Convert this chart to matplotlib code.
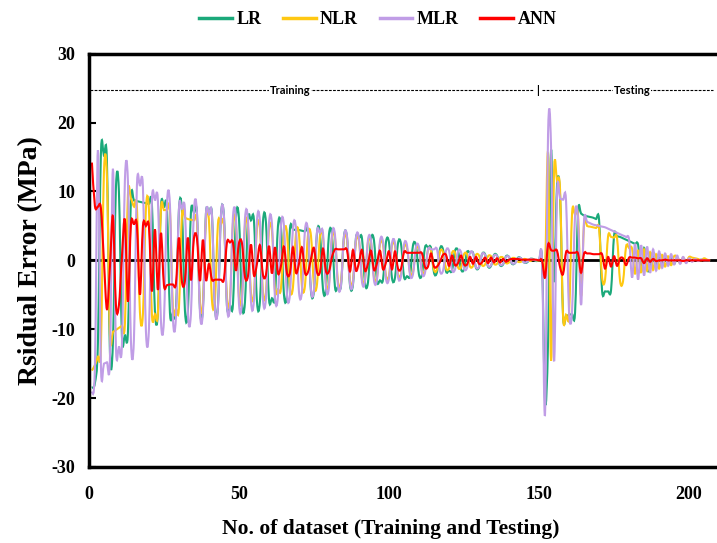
import numpy as np
import matplotlib
matplotlib.use("Agg")
from matplotlib import pyplot as plt
from matplotlib.path import Path
from matplotlib.patches import PathPatch
from matplotlib.lines import Line2D

# residual errors (MPa), data points 1..207 (training 1-151, testing 152-207)
lr = [
    -18.5, -17.8, -12.0, 15.5, 15.2, 14.5, -13.3, -12.0, 10.5, 10.0,
    -11.0, -10.8, -10.5, 8.8, 8.7, 8.6, 8.5, 8.4, 8.3, 8.2,
    8.1, -7.4, -7.6, 7.8, 7.7, 7.6, -7.6, -7.5, -7.4, 7.3,
    7.2, -7.3, -7.2, 7.0, 6.9, 6.9, -7.0, -6.9, 6.8, 6.7,
    6.7, -6.8, -6.7, 6.5, 6.4, -6.6, -6.5, -6.4, 6.2, 6.1,
    -6.2, -6.1, 5.9, 5.8, 5.8, -6.0, -5.9, 5.6, 5.5, -5.6,
    -5.5, -5.3, 5.0, 4.9, -5.0, -4.9, 4.6, 4.5, 4.4, 4.4,
    4.3, 4.2, 4.1, -4.5, -4.4, 4.0, 3.9, -4.2, -4.1, 3.8,
    3.7, -3.9, -3.8, -3.7, 3.5, 3.4, -3.6, -3.5, 3.3, 3.2,
    3.2, -3.3, -3.2, 3.0, 2.9, -3.0, -2.9, -2.8, 2.7, 2.6,
    -2.6, -2.5, 2.5, 2.4, -2.4, -2.3, -2.2, 2.2, 2.1, -2.1,
    -2.0, 1.9, 1.9, 1.8, -1.8, -1.7, 1.7, 1.6, -1.6, -1.5,
    -1.5, 1.4, 1.4, -1.3, -1.3, 1.2, 1.1, 1.1, -1.1, -1.0,
    0.9, 0.9, -0.9, -0.8, 0.8, 0.7, -0.7, -0.6, 0.6, 0.5,
    -0.5, -0.4, 0.4, 0.3, -0.3, -0.3, 0.2, 0.2, -0.1, 0.0,
    0.0,
    -20.5, -12.0, 16.0, -3.0, 11.0, 9.5, -8.0, -8.1, -7.9, -7.8,
    -7.6, 7.0, 6.8, 6.5, 6.4, 6.3, 6.2, 6.0, 5.9, -4.4,
    -4.5, -4.5, -4.3, 3.6, 3.5, 3.4, 3.2, 3.0, 2.8, 2.6,
    2.4, 2.3, -1.6, 1.8, -1.3, -1.2, 1.2, -1.0, 1.0, -0.8,
    0.7, -0.6, 0.5, -0.5, 0.4, -0.3, 0.3, -0.2, 0.2, -0.1,
    0.1, 0.0, 0.1, 0.0, 0.0, 0.0,
]
nlr = [
    -16.0, -15.2, -14.0, -12.5, 12.7, 12.2, -10.7, -10.4, -10.1, -9.8,
    -9.5, -9.2, 9.5, 9.0, 7.8, 7.7, -7.5, -7.8, 7.5, 7.4,
    -7.9, -7.8, -7.6, 7.4, 7.3, 7.3, 7.2, -7.0, -7.0, -6.9,
    6.6, 6.2, 6.0, 5.9, 5.8, 5.7, -6.2, -6.1, 6.0, 5.8,
    -5.8, -5.7, 5.3, 5.3, 5.2, -5.6, -5.5, 5.4, 5.2, -5.3,
    -5.2, 5.0, 4.9, -4.8, -4.8, 4.7, 4.6, -4.7, -4.6, 4.4,
    4.3, -4.3, -4.2, -4.1, 4.0, 4.0, -4.0, -3.9, 3.9, 3.8,
    -3.8, -3.7, 3.7, 3.6, -3.6, -3.5, 3.5, 3.4, -3.4, -3.3,
    3.3, 3.3, -3.2, -3.2, 3.1, 3.0, -3.0, -2.9, 2.9, 2.8,
    -2.8, -2.7, 2.7, 2.6, -2.5, -2.5, 2.4, 2.3, -2.3, -2.2,
    2.2, 2.1, -2.0, -2.0, 1.9, 1.8, -1.8, -1.7, 1.7, 1.6,
    -1.6, -1.5, 1.5, 1.4, -1.4, -1.3, 1.3, 1.2, -1.2, -1.1,
    1.1, 1.1, -1.0, -1.0, 0.9, 0.9, -0.9, -0.8, 0.8, 0.7,
    -0.7, -0.6, 0.6, 0.6, -0.5, -0.5, 0.4, 0.4, -0.4, -0.3,
    0.3, 0.3, -0.2, -0.2, 0.2, 0.1, -0.1, 0.1, 0.0, 0.0,
    0.0,
    -1.0, 15.4, -14.6, 13.0, 11.5, 10.3, -8.1, -7.9, -7.7, 6.8,
    6.6, 6.5, -5.2, 5.5, 5.0, 4.9, 4.8, 4.7, 4.6, -2.5,
    -2.8, 3.5, 3.4, 3.3, 3.2, -3.0, -3.0, 2.0, 1.8, 1.7,
    -2.0, 1.5, -1.8, 1.6, -1.5, 1.2, -1.4, 0.9, -1.2, 0.8,
    -0.9, 0.6, -0.7, 0.6, 0.5, -0.4, 0.4, -0.3, 0.5, 0.4,
    0.3, 0.2, 0.0, 0.3, 0.1, 0.0,
]
mlr = [
    -19.3, -15.5, 16.0, -15.3, -15.0, -14.8, -14.5, 13.3, -12.6, -12.5,
    -12.3, 11.7, 11.5, -11.7, -11.5, 10.9, 10.8, 10.6, -10.3, -10.0,
    8.8, 8.7, 8.6, -8.8, -8.7, 8.2, 8.1, -8.5, -8.3, 7.5,
    7.4, 7.3, -7.9, -7.7, 7.2, 7.0, -7.6, -7.4, 6.8, 6.7,
    6.6, -7.0, -6.8, 6.5, 6.4, -6.6, -6.5, 6.3, 6.1, -6.3,
    -6.1, 6.0, 5.9, -5.9, -5.8, 5.8, 5.6, -5.7, -5.5, 5.4,
    5.3, -5.4, -5.2, 5.1, 5.0, -5.0, -4.9, 4.7, 4.6, -4.6,
    -4.5, 4.4, 4.3, -4.3, -4.2, 4.1, 4.0, 4.0, -4.0, -3.9,
    3.8, 3.7, -3.7, -3.6, 3.5, 3.5, -3.4, -3.3, 3.3, 3.2,
    -3.1, -3.0, 3.0, 2.9, -2.9, -2.8, 2.8, 2.7, -2.7, -2.6,
    2.5, 2.5, -2.4, -2.3, 2.3, 2.2, -2.1, -2.0, 2.0, 1.9,
    -1.9, -1.8, 1.6, 1.6, 1.6, 1.6, -1.6, -1.5, 1.4, 1.4,
    -1.4, -1.3, 1.3, 1.2, -1.2, -1.1, 1.1, 1.0, -1.0, -0.9,
    0.9, 0.8, -0.8, -0.7, 0.7, 0.6, -0.6, -0.5, 0.5, 0.5,
    -0.4, -0.4, 0.3, 0.3, -0.3, -0.2, 0.2, 0.1, 0.0, 0.1,
    0.0,
    -22.3, 18.3, 16.5, -14.6, 9.8, 9.0, 8.8, 8.6, -7.5, -7.3,
    6.5, 6.0, -6.5, 5.8, 5.6, 5.4, 5.2, 5.1, 5.0, 4.9,
    4.8, 4.6, 4.4, 4.2, 4.0, 3.8, 3.6, 3.4, 3.0, -2.5,
    2.4, -2.8, 2.2, -2.2, 2.0, -1.8, 1.6, -1.5, 1.3, -1.1,
    1.0, -0.8, 0.9, -0.6, 0.7, -0.5, 0.5, -0.4, 0.3, -0.2,
    0.2, -0.1, 0.1, 0.0, 0.0, 0.0,
]
ann = [
    14.2, 7.9, 7.8, 7.6, 0.0, -7.1, -1.0, 6.4, -6.5, -6.5,
    0.5, 5.9, -6.0, 5.2, 5.2, 5.1, -5.0, 5.0, 5.0, 4.9,
    -4.5, 4.5, -4.3, 4.0, -3.6, -3.6, -3.5, -3.5, -3.4, 3.3,
    -3.1, -3.0, 3.3, -2.9, 3.2, 3.2, -3.0, 3.0, -2.9, -0.5,
    -2.8, -2.8, -2.8, -2.8, -2.7, 2.6, 2.6, 2.6, -1.5, 2.5,
    2.5, -2.4, -2.3, 2.3, -2.2, -0.5, 2.2, -2.1, -2.1, 2.1,
    -1.9, 1.9, -1.9, -0.8, 2.0, -1.9, -1.8, 1.9, -1.8, -0.5,
    1.9, -1.8, -1.7, 0.2, 1.8, -1.7, -1.7, 1.7, -1.6, -1.6,
    0.5, 1.6, 1.6, 1.6, 1.6, 1.5, -1.6, 1.5, -1.5, -0.3,
    1.5, -1.5, -0.5, 1.4, -1.4, -0.4, 1.4, -1.3, -0.3, 1.3,
    -1.3, 1.3, -1.2, -1.2, 1.2, 1.1, 1.1, 1.1, 1.1, 1.1,
    1.0, -1.0, -0.9, 1.0, -0.9, -0.9, -0.2, 0.8, 0.8, -0.8,
    0.7, -0.7, -0.4, 0.7, -0.6, -0.6, 0.5, -0.5, 0.5, -0.5,
    -0.3, 0.4, -0.4, 0.4, -0.3, 0.3, -0.3, 0.2, -0.2, 0.1,
    0.2, 0.2, 0.2, 0.1, 0.1, 0.1, 0.1, 0.1, 0.1, 0.0,
    0.0,
    -2.5, 2.3, 1.5, 1.4, 1.4, -1.0, -2.0, 1.2, 1.1, 1.1,
    1.1, 1.0, -1.8, 1.0, 1.0, 1.0, 0.9, 0.9, 0.9, 0.9,
    -1.2, 0.5, -0.9, 0.6, -0.8, 0.3, 0.3, -0.7, 0.4, 0.4,
    0.4, 0.3, 0.3, -0.4, 0.3, -0.2, 0.2, -0.1, 0.0, 0.0,
    0.1, 0.0, 0.0, 0.0, 0.0, 0.0, -0.1, 0.0, 0.0, 0.0,
    0.0, 0.0, 0.0, 0.0, 0.0, 0.0,
]
series_names = ['LR', 'NLR', 'MLR', 'ANN']
series_colors = ['#1BA97A', '#FFC812', '#C09DE6', '#FF0000']
yticks = [-30, -20, -10, 0, 10, 20, 30]
xticks = [0, 50, 100, 150, 200]


def smooth_path(x, y):
    # excel-like smoothed line: catmull-rom segments as cubic beziers
    pts = np.column_stack([x, y]).astype(float)
    verts = [pts[0]]
    codes = [Path.MOVETO]
    n = len(pts)
    for i in range(n - 1):
        p0 = pts[i - 1] if i > 0 else pts[i]
        p1 = pts[i]
        p2 = pts[i + 1]
        p3 = pts[i + 2] if i + 2 < n else pts[i + 1]
        verts += [p1 + (p2 - p0) / 6, p2 - (p3 - p1) / 6, p2]
        codes += [Path.CURVE4] * 3
    return Path(verts, codes)


plt.rcParams['font.family'] = ['Liberation Serif', 'DejaVu Serif']
plt.rcParams['font.weight'] = 'bold'
plt.rcParams['axes.unicode_minus'] = False

fig = plt.figure(figsize=(7.17, 5.43), dpi=100)
ax = fig.add_axes([0.124, 0.140, 0.876, 0.761])

x = np.arange(1, len(lr) + 1)
ax.axhline(0, color='black', lw=2, zorder=1)
for data, c in zip([lr, nlr, mlr, ann], series_colors):
    ax.add_patch(PathPatch(smooth_path(x, data), fill=False, edgecolor=c,
                           lw=1.5, zorder=2))

ax.set_xlim(0, 209.3)
ax.set_ylim(-30, 30)
ax.set_xticks(xticks)
ax.set_yticks(yticks)
ax.tick_params(axis='x', length=0, pad=14, labelsize=13)
ax.tick_params(axis='y', direction='in', length=5, width=1.5, pad=10, labelsize=13)
for s in ['left', 'bottom', 'top']:
    ax.spines[s].set_linewidth(2.5)
ax.spines['right'].set_visible(False)

ax.set_xlabel('No. of dataset (Training and Testing)', fontsize=15.5, fontweight='bold')
ax.xaxis.set_label_coords(0.48, -0.125)
ax.set_ylabel('Rsidual Error (MPa)', fontsize=20, fontweight='bold', labelpad=6)

# training / testing marker
ax.hlines(24.7, 0.5, 148, colors='black', linestyles=(0, (2.5, 1.2)), lw=0.8)
ax.hlines(24.7, 151, 208, colors='black', linestyles=(0, (2.5, 1.2)), lw=0.8)
lab = dict(fontsize=8, fontweight='bold', family='Lato', va='center', ha='center',
           bbox=dict(facecolor='white', edgecolor='none', pad=0.5))
ax.text(67, 24.7, 'Training', **lab)
ax.text(149.5, 24.7, '|', **lab)
ax.text(181, 24.7, 'Testing', **lab)

handles = [Line2D([], [], color=c, lw=2.5) for c in series_colors]
fig.legend(handles, series_names, loc='upper center', bbox_to_anchor=(0.527, 1.01),
           ncol=4, frameon=False, fontsize=13, handlelength=1.8, handletextpad=0.25,
           columnspacing=1.2)

fig.savefig('out.png', dpi=100)
